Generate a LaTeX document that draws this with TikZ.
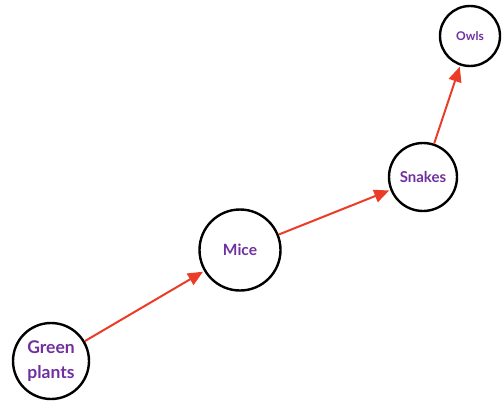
\documentclass[tikz,border=0pt]{standalone}
\usepackage{fontspec}
\setmainfont{Lato}
\usetikzlibrary{arrows.meta}
\definecolor{textpurple}{RGB}{112,48,160}
\definecolor{arrowred}{RGB}{235,60,40}

\begin{document}
\begin{tikzpicture}[x=1pt,y=-1pt,
    animal/.style={circle,draw=black,line width=2.4pt,inner sep=0pt,
        text=textpurple,align=center},
    eats/.style={draw=arrowred,line width=2pt,
        -{Triangle[length=15pt,width=13pt]},shorten >=1.2pt}]
         \useasboundingbox (0,0) rectangle (502,404);
         \node[animal,minimum size=76pt,font=\fontsize{17.5}{25}\selectfont\bfseries] (plants) at (51,361) {Green\\plants};
         \node[animal,minimum size=81pt,font=\fontsize{15.5}{18}\selectfont\bfseries] (mice) at (240,250) {Mice};
         \node[animal,minimum size=68pt,font=\fontsize{15}{18}\selectfont\bfseries] (snakes) at (423,177) {Snakes};
         \node[animal,minimum size=60pt,font=\fontsize{12}{14}\selectfont\bfseries] (owls) at (470,36) {Owls};
         \draw[eats] (plants) -- (mice);
         \draw[eats] (mice) -- (snakes);
         \draw[eats] (snakes) -- (owls);
     \end{tikzpicture}
\end{document}
